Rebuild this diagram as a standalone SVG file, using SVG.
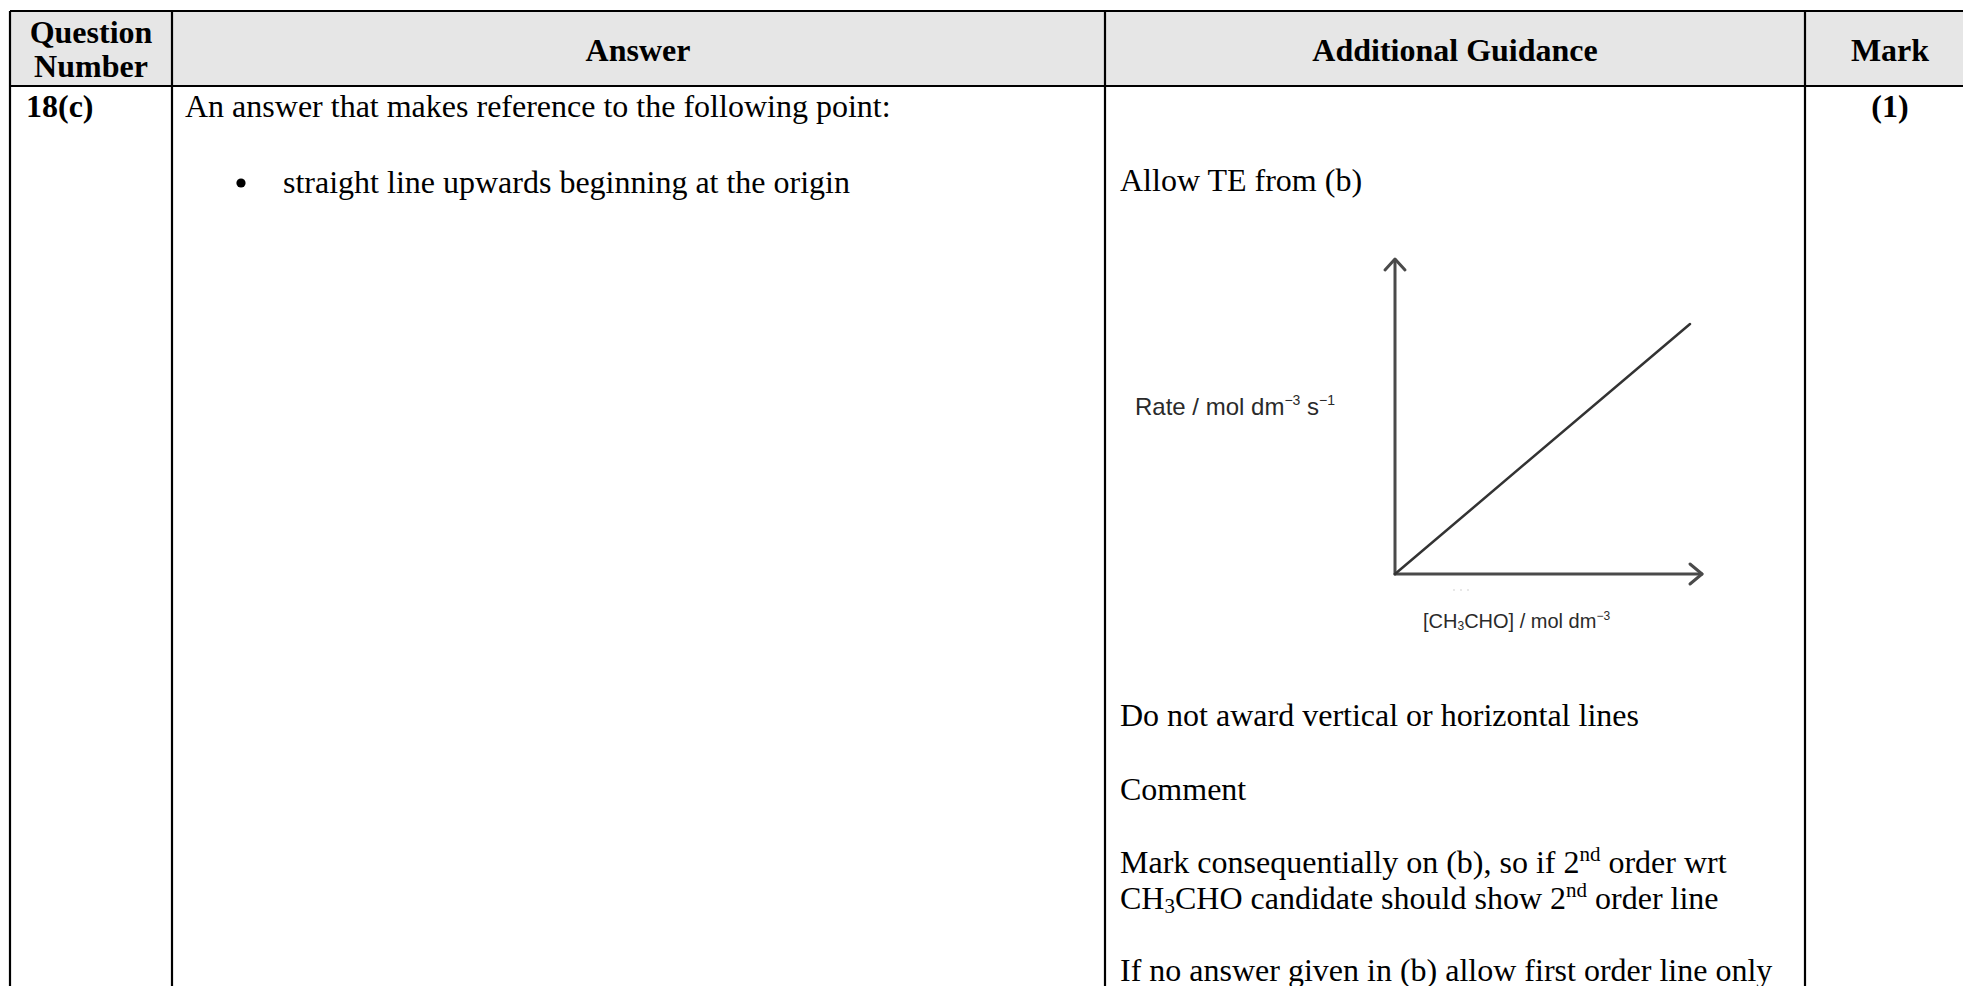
<svg xmlns="http://www.w3.org/2000/svg" width="1963" height="986" viewBox="0 0 1963 986">
<style>
.t{font-family:"Liberation Serif","Times New Roman",serif;font-size:32px;fill:#000}
.b{font-weight:bold}
.m{text-anchor:middle}
.g{font-family:"Liberation Sans",Arial,sans-serif;fill:#2a2a2a}
.rule{stroke:#000;stroke-width:2.2;fill:none}
.ax{stroke:#4a4a4a;stroke-width:3;fill:none;stroke-linecap:round;stroke-linejoin:round}
.plot{stroke:#333;stroke-width:2.5;fill:none;stroke-linecap:round}
</style>
<rect width="1963" height="986" fill="#fff"/>
<g id="table-grid">
<rect x="10" y="11" width="1970" height="75" fill="#e6e6e6"/>
<line class="rule" x1="10" y1="11" x2="1963" y2="11"/>
<line class="rule" x1="10" y1="86" x2="1963" y2="86"/>
<line class="rule" x1="10" y1="11" x2="10" y2="986"/>
<line class="rule" x1="172" y1="11" x2="172" y2="986"/>
<line class="rule" x1="1105" y1="11" x2="1105" y2="986"/>
<line class="rule" x1="1805" y1="11" x2="1805" y2="986"/>
</g>
<g id="header">
<text class="t b m" x="91" y="43">Question</text>
<text class="t b m" x="91" y="77">Number</text>
<text class="t b m" x="638" y="61">Answer</text>
<text class="t b m" x="1455" y="61">Additional Guidance</text>
<text class="t b m" x="1890" y="61">Mark</text>
</g>
<g id="question-number">
<text class="t b" x="26" y="117">18(c)</text>
</g>
<g id="answer">
<text class="t" x="185" y="117">An answer that makes reference to the following point:</text>
<circle cx="241" cy="183" r="4.6" fill="#000"/>
<text class="t" x="283" y="193">straight line upwards beginning at the origin</text>
</g>
<g id="guidance">
<text class="t" x="1120" y="191">Allow TE from (b)</text>
<text class="t" x="1120" y="726">Do not award vertical or horizontal lines</text>
<text class="t" x="1120" y="800">Comment</text>
<text class="t" x="1120" y="873">Mark consequentially on (b), so if 2<tspan font-size="21" dy="-12">nd</tspan><tspan dy="12"> order wrt</tspan></text>
<text class="t" x="1120" y="909">CH<tspan font-size="21" dy="4">3</tspan><tspan dy="-4">CHO candidate should show 2</tspan><tspan font-size="21" dy="-12">nd</tspan><tspan dy="12"> order line</tspan></text>
<text class="t" x="1120" y="981">If no answer given in (b) allow first order line only</text>
</g>
<g id="mark">
<text class="t b m" x="1890" y="117">(1)</text>
</g>
<g id="graph">
<line class="ax" x1="1395" y1="574" x2="1395" y2="260"/>
<polyline class="ax" points="1385,270 1395,259 1405,270"/>
<line class="ax" x1="1395" y1="574" x2="1702" y2="574"/>
<polyline class="ax" points="1690,564 1702,574 1690,584"/>
<line class="plot" x1="1395" y1="574" x2="1690" y2="324"/>
<circle cx="1454" cy="590" r="0.9" fill="#ddd"/>
<circle cx="1461" cy="590" r="0.9" fill="#ddd"/>
<circle cx="1468" cy="590" r="0.9" fill="#ddd"/>
<text class="g" x="1135" y="415" font-size="24">Rate / mol dm<tspan font-size="14" dy="-10">−3</tspan><tspan dy="10"> s</tspan><tspan font-size="14" dy="-10">−1</tspan></text>
<text class="g" x="1423" y="628" font-size="20">[CH<tspan font-size="12" dy="2">3</tspan><tspan dy="-2">CHO] / mol dm</tspan><tspan font-size="12" dy="-8">−3</tspan></text>
</g>
</svg>
